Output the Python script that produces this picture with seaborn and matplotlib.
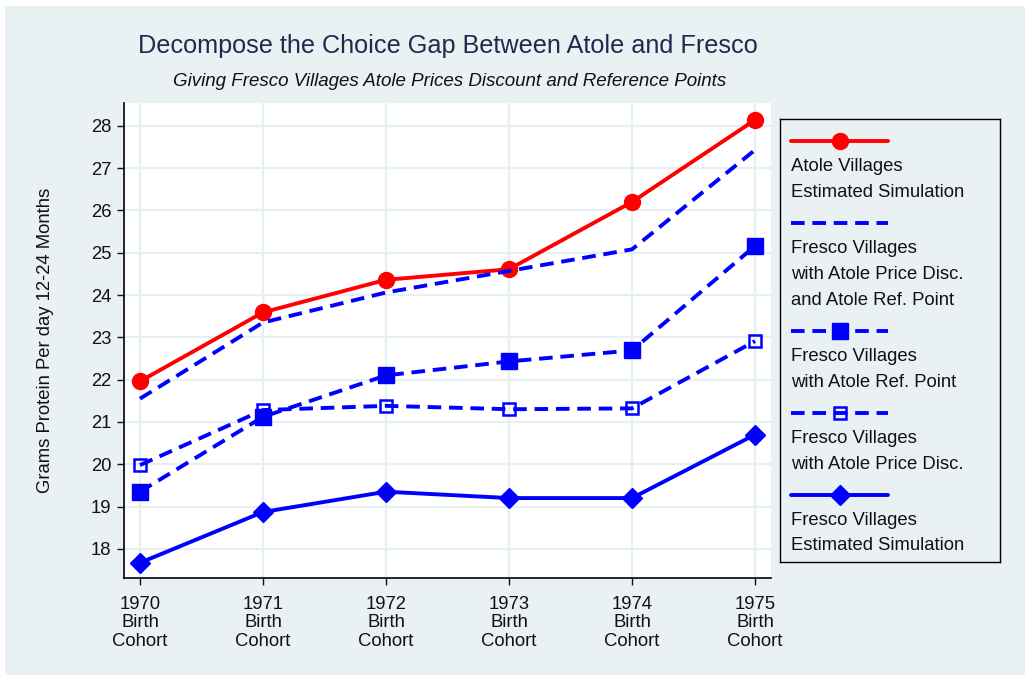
import matplotlib
matplotlib.use("Agg")
import matplotlib.pyplot as plt
import seaborn as sns
from matplotlib.patches import Rectangle

# values
years = [1970, 1971, 1972, 1973, 1974, 1975]
year_labels = [f"{y}\nBirth\nCohort" for y in years]
atole_sim = [21.96, 23.59, 24.36, 24.61, 26.20, 28.14]
fresco_disc_ref = [21.55, 23.35, 24.06, 24.57, 25.08, 27.43]
fresco_ref = [19.35, 21.12, 22.10, 22.43, 22.69, 25.16]
fresco_disc = [19.98, 21.28, 21.38, 21.30, 21.32, 22.91]
fresco_sim = [17.67, 18.87, 19.35, 19.20, 19.20, 20.70]

series = [atole_sim, fresco_disc_ref, fresco_ref, fresco_disc, fresco_sim]
legend_labels = [
    ["Atole Villages", "Estimated Simulation"],
    ["Fresco Villages", "with Atole Price Disc.", "and Atole Ref. Point"],
    ["Fresco Villages", "with Atole Ref. Point"],
    ["Fresco Villages", "with Atole Price Disc."],
    ["Fresco Villages", "Estimated Simulation"],
]

RED = "#FF0000"
BLUE = "#0000FF"
BG = "#EAF1F3"
GRID = "#E6EFF1"
DASH = (0, (3.5, 2))
FS = 13.3

styles = [
    dict(color=RED, linestyle="-", marker="o", markersize=11.5, mfc=RED, mec=RED, mew=1),
    dict(color=BLUE, linestyle=DASH, marker=None),
    dict(color=BLUE, linestyle=DASH, marker="s", markersize=11, mfc=BLUE, mec=BLUE, mew=1),
    dict(color=BLUE, linestyle=DASH, marker="s", markersize=9, mfc="none", mec=BLUE, mew=1.8),
    dict(color=BLUE, linestyle="-", marker="D", markersize=10.5, mfc=BLUE, mec=BLUE, mew=1),
]

sns.set_theme(style="white")
plt.rcParams["font.family"] = ["Liberation Sans", "DejaVu Sans"]

fig = plt.figure(figsize=(10.25, 6.75), dpi=100, facecolor="white")
fig.patches.append(Rectangle((5 / 1025, 0), 1, 669 / 675, transform=fig.transFigure,
                             facecolor=BG, edgecolor="none", zorder=-10))

ax = fig.add_axes([124 / 1025, 97 / 675, 647 / 1025, 475 / 675])
ax.set_facecolor("white")

for vals, st in zip(series, styles):
    sns.lineplot(x=years, y=vals, ax=ax, lw=2.8, **st)

ax.set_xlim(1969.87, 1975.13)
ax.set_ylim(17.31, 28.54)
ax.set_xticks(years)
ax.set_xticklabels(year_labels, fontsize=FS, linespacing=1.1)
ax.set_yticks(range(18, 29))
ax.tick_params(axis="y", labelsize=FS, direction="out", length=5, width=1, pad=4, left=True, colors="#111111")
ax.tick_params(axis="x", direction="out", length=5, width=1, pad=8, bottom=True, colors="#111111")
ax.grid(True, color=GRID, lw=1.6)
ax.set_axisbelow(True)
for side in ["top", "right"]:
    ax.spines[side].set_visible(False)
for side in ["left", "bottom"]:
    ax.spines[side].set_color("black")
    ax.spines[side].set_linewidth(1.2)

fig.text(448 / 1025, 1 - 46 / 675, "Decompose the Choice Gap Between Atole and Fresco",
         ha="center", va="center", fontsize=18.2, color="#1C2B4E")
fig.text(450 / 1025, 1 - 82 / 675, "Giving Fresco Villages Atole Prices Discount and Reference Points",
         ha="center", va="center", fontsize=13.5, style="italic", color="#111111")
fig.text(46 / 1025, 1 - 340 / 675, "Grams Protein Per day 12-24 Months",
         ha="center", va="center", rotation=90, fontsize=FS, color="#111111")

# Stata-style legend: handle on its own row, label lines under it
lax = fig.add_axes([780 / 1025, (675 - 562) / 675, 220 / 1025, 443 / 675])
lax.set_facecolor(BG)
lax.set_xlim(0, 220)
lax.set_ylim(443, 0)
lax.set_xticks([])
lax.set_yticks([])
for sp in lax.spines.values():
    sp.set_color("black")
    sp.set_linewidth(1)

y = 22.4
for lines, st in zip(legend_labels, styles):
    lax.plot([11, 108], [y, y], lw=2.8, color=st["color"], linestyle=st["linestyle"])
    if st["marker"]:
        lax.plot([59.5], [y], linestyle="none", marker=st["marker"], markersize=st["markersize"],
                 mfc=st["mfc"], mec=st["mec"], mew=st["mew"])
    y += 25.3
    for line in lines:
        lax.text(11, y, line, ha="left", va="center", fontsize=FS, color="#111111")
        y += 25.8
    y += 5

fig.savefig("out.png", dpi=100, facecolor=fig.get_facecolor())
